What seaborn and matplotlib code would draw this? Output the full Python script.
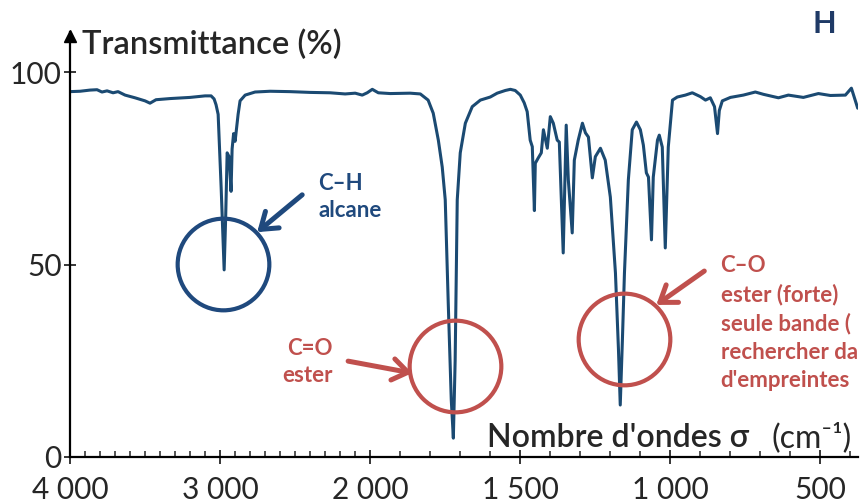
import numpy as np
import pandas as pd
import matplotlib
matplotlib.use("Agg")
import matplotlib.pyplot as plt
import seaborn as sns

# ---------------- data ----------------
sigma = [4000, 3933, 3867, 3820, 3787, 3753, 3713, 3680, 3633, 3567, 3500, 3467,
         3427, 3333, 3200, 3100, 3060, 3040, 3027, 3013, 2993, 2973, 2963, 2953,
         2940, 2927, 2920, 2910, 2900, 2890, 2880, 2867, 2833, 2767, 2667, 2533,
         2400, 2267, 2167, 2100, 2053, 2020, 1993, 1973, 1933, 1867, 1833, 1807,
         1790, 1773, 1760, 1750, 1740, 1730, 1723, 1717, 1710, 1700, 1683, 1660,
         1633, 1600, 1577, 1550, 1533, 1517, 1500, 1487, 1477, 1467, 1460, 1453,
         1450, 1440, 1430, 1423, 1417, 1410, 1400, 1390, 1377, 1370, 1357, 1347,
         1340, 1327, 1320, 1307, 1293, 1283, 1273, 1260, 1250, 1233, 1217, 1200,
         1183, 1173, 1167, 1160, 1153, 1140, 1127, 1113, 1100, 1090, 1080, 1073,
         1063, 1057, 1043, 1037, 1027, 1017, 1007, 993, 977, 950, 927, 900, 883,
         867, 853, 843, 837, 827, 800, 757, 717, 690, 640, 607, 557, 507, 467,
         417, 397, 376]
transmittance = [94.9, 95.0, 95.3, 95.4, 94.8, 95.1, 94.6, 94.9, 94.0, 93.3, 92.5, 91.9,
                 92.8, 93.1, 93.4, 93.8, 93.8, 93.0, 91.5, 89.0, 70.0, 48.6, 62.0, 79.0,
                 78.0, 69.0, 80.0, 84.0, 82.0, 85.5, 89.0, 92.5, 94.0, 94.8, 95.0, 94.9,
                 94.7, 94.6, 94.3, 94.5, 94.0, 94.6, 95.5, 94.6, 94.4, 94.5, 94.3, 92.7,
                 89.3, 82.3, 75.3, 66.8, 40.0, 15.0, 4.9, 25.0, 66.8, 79.0, 86.7, 91.0,
                 92.7, 93.5, 94.5, 95.2, 95.5, 95.2, 94.0, 92.0, 89.7, 82.3, 80.6, 64.0,
                 76.3, 77.7, 79.0, 85.0, 82.8, 80.2, 88.4, 86.7, 82.3, 81.8, 53.0, 86.2,
                 72.0, 58.2, 77.1, 82.3, 86.7, 84.2, 83.1, 72.5, 78.0, 80.2, 77.1, 67.5,
                 47.8, 28.0, 13.5, 30.0, 47.8, 72.0, 85.0, 87.0, 85.0, 81.0, 73.8, 72.7,
                 56.4, 72.7, 82.3, 83.6, 80.5, 54.3, 80.5, 92.7, 93.5, 94.0, 94.6, 93.6, 92.7,
                 93.3, 91.0, 84.0, 90.0, 92.5, 93.4, 94.0, 94.8, 94.2, 93.3, 94.0, 93.4, 94.4, 93.9,
                 94.0, 95.8, 90.6]

x_ticks = [4000, 3000, 2000, 1500, 1000, 500]
x_tick_labels = ["4 000", "3 000", "2 000", "1 500", "1 000", "500"]
y_ticks = [0, 50, 100]
y_tick_labels = ["0", "50", "100"]

# ---------------- style ----------------
LINE = "#1b4a72"
BLUE = "#1f497d"
RED = "#c0504d"

sns.set_style("ticks")
plt.rcParams["font.family"] = ["Lato", "DejaVu Sans"]

W, H = 861, 504
fig = plt.figure(figsize=(W / 100, H / 100), dpi=100)
ax = fig.add_axes([70 / W, 47 / H, 788 / W, 425 / H])

df = pd.DataFrame({"sigma": sigma, "T": transmittance})
sns.lineplot(data=df, x="sigma", y="T", ax=ax, sort=False, estimator=None,
             color=LINE, lw=2.2)


# split IR axis: below 2000 cm-1 the scale is doubled
def fwd(s):
    s = np.asarray(s, dtype=float)
    return np.where(s <= 2000, s, 2000 + (s - 2000) / 2)


def inv(u):
    u = np.asarray(u, dtype=float)
    return np.where(u <= 2000, u, 2000 + 2 * (u - 2000))


ax.set_xscale("function", functions=(fwd, inv))
ax.set_xlim(4000, 375)
ax.set_ylim(0, 425 / 3.85)

for s in ["top", "right"]:
    ax.spines[s].set_visible(False)
for s in ["left", "bottom"]:
    ax.spines[s].set_linewidth(1.6)
    ax.spines[s].set_color("black")

ax.set_xticks(x_ticks, labels=x_tick_labels)
ax.set_xticks([v for v in range(400, 4000, 100) if v not in x_ticks], minor=True)
ax.set_yticks(y_ticks, labels=y_tick_labels)
ax.tick_params(axis="x", which="major", direction="inout", length=10, width=1.3,
               labelsize=21.5, pad=9, bottom=True)
ax.tick_params(axis="x", which="minor", direction="in", length=4, width=1.1, bottom=True)
ax.tick_params(axis="y", direction="inout", length=8, width=1.3, labelsize=21.5, pad=2,
               left=True)
ax.set_xlabel("")
ax.set_ylabel("")

# arrow head on the y axis
ax.plot([0], [0.99], marker="^", ms=9, color="black", transform=ax.transAxes,
        clip_on=False)

# axis titles
fig.text(82 / W, 1 - 45 / H, "Transmittance (%)", ha="left", va="center",
         fontsize=23.5, weight="semibold")
fig.text(487 / W, 1 - 438 / H, "Nombre d'ondes σ", ha="left", va="center",
         fontsize=23, weight="semibold")
fig.text(852 / W, 1 - 438 / H, "(cm\u207b\u00b9)", ha="right", va="center",
         fontsize=23, family=["Lato", "DejaVu Sans"])
fig.text(824 / W, 1 - 24 / H, "H", ha="center", va="center", fontsize=22,
         weight="bold", color="#1f3a66")

# ---------------- annotations ----------------
circles = [(2980, 50.1, BLUE), (1718, 23.6, RED), (1153, 30.6, RED)]
for cx, cy, col in circles:
    ax.plot([cx], [cy], marker="o", ms=66, mfc="none", mec=col, mew=3, ls="none",
            clip_on=False)

arrows = [((2753, 58.4), (2453, 68.1), BLUE),
          ((1860, 21.8), (2147, 24.9), RED),
          ((1047, 39.5), (887, 48.3), RED)]
for tip, tail, col in arrows:
    ax.annotate("", xy=tip, xytext=tail,
                arrowprops=dict(arrowstyle="->,head_length=0.5,head_width=0.35",
                                color=col, lw=3.6, mutation_scale=22,
                                shrinkA=0, shrinkB=0))

ax.text(2347, 67.5, "C–H\nalcane", color=BLUE, fontsize=16, weight="bold",
        ha="left", va="center", linespacing=1.35)
ax.text(2247, 24.7, "C=O\nester", color=RED, fontsize=16, weight="bold",
        ha="right", va="center", multialignment="right", linespacing=1.35)
ax.text(833, 34.8, "C–O\nester (forte)\nseule bande (\nrechercher da\nd'empreintes",
        color=RED, fontsize=16, weight="bold", ha="left", va="center",
        linespacing=1.42, clip_on=False)

fig.savefig("out.png", dpi=100)
